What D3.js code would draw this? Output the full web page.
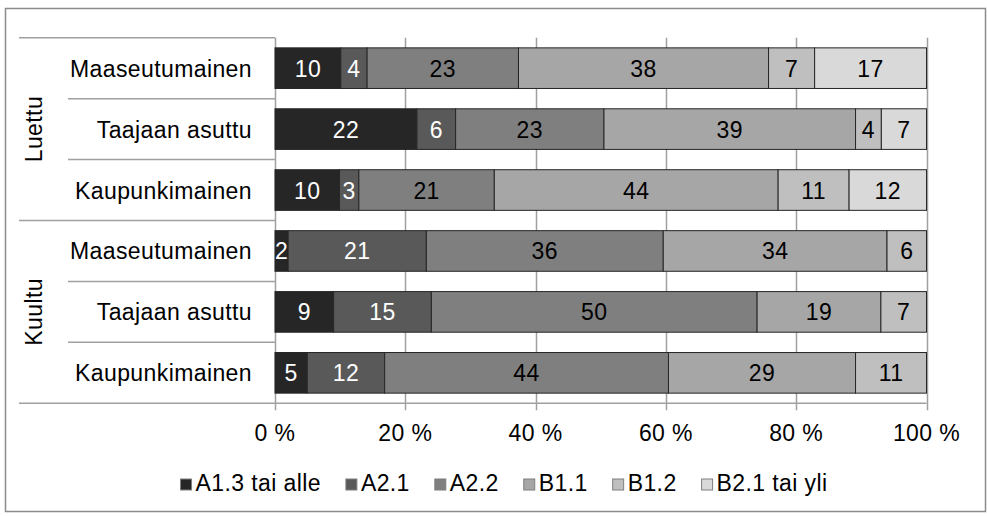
<!DOCTYPE html>
<html lang="fi">
<head>
<meta charset="utf-8">
<title>Kielitaito</title>
<script src="https://d3js.org/d3.v7.min.js"></script>
<style>
  body { margin: 0; background: #fff; }
  text { font-family: "Liberation Sans", Arial, sans-serif; letter-spacing: 0.4px; }
</style>
</head>
<body>
<script>
// data
var groups = ["Luettu", "Kuultu"];
var categories = ["Maaseutumainen", "Taajaan asuttu", "Kaupunkimainen"];
var seriesNames = ["A1.3 tai alle", "A2.1", "A2.2", "B1.1", "B1.2", "B2.1 tai yli"];
// row order: Luettu x3, Kuultu x3
var a13 = [10, 22, 10, 2, 9, 5];
var a21 = [4, 6, 3, 21, 15, 12];
var a22 = [23, 23, 21, 36, 50, 44];
var b11 = [38, 39, 44, 34, 19, 29];
var b12 = [7, 4, 11, 6, 7, 11];
var b21 = [17, 7, 12, 0, 0, 0];
var tickLabels = ["0 %", "20 %", "40 %", "60 %", "80 %", "100 %"];

var colors = ["#262626", "#595959", "#7f7f7f", "#a6a6a6", "#bfbfbf", "#d9d9d9"];
var labelColors = ["#fff", "#fff", "#000", "#000", "#000", "#000"];

var W = 987, H = 516;
var fontSize = 23;

var seriesVals = [a13, a21, a22, b11, b12, b21];
var rows = [];
groups.forEach(function(g, gi) {
    categories.forEach(function(c, ci) {
        var i = gi * categories.length + ci;
        var r = { id: i, group: g, cat: c };
        seriesNames.forEach(function(s, si) { r[s] = seriesVals[si][i]; });
        rows.push(r);
    });
});

var svg = d3.select("body").append("svg")
    .attr("width", W)
    .attr("height", H);

// outer frame
svg.append("rect")
    .attr("x", 5.5).attr("y", 8.5)
    .attr("width", 980).attr("height", 503)
    .attr("fill", "none")
    .attr("stroke", "#8c8c8c")
    .attr("stroke-width", 1.5);

var x = d3.scaleLinear().domain([0, 1]).range([275, 926.5]);
var y = d3.scaleBand()
    .domain(rows.map(function(d) { return d.id; }))
    .range([37.7, 403.3])
    .paddingInner(1 / 3)
    .paddingOuter(1 / 6);

var stack = d3.stack().keys(seriesNames).offset(d3.stackOffsetExpand);
var layers = stack(rows);

// gridlines (with tick stubs below the axis)
var grid = svg.append("g");
grid.selectAll("line")
    .data(d3.range(0, 1.0001, 0.2))
    .enter().append("line")
    .attr("x1", function(d) { return Math.round(x(d)) + 0.5; })
    .attr("x2", function(d) { return Math.round(x(d)) + 0.5; })
    .attr("y1", y.range()[0])
    .attr("y2", y.range()[1] + 7)
    .attr("stroke", "#a0a0a0")
    .attr("stroke-width", 1.5);

// bottom axis line
svg.append("line")
    .attr("x1", 19).attr("x2", x(1))
    .attr("y1", y.range()[1]).attr("y2", y.range()[1])
    .attr("stroke", "#a0a0a0").attr("stroke-width", 1.5);

// category separator lines
var bounds = d3.range(0, rows.length);
svg.append("g").selectAll("line")
    .data(bounds)
    .enter().append("line")
    .attr("x1", function(d) { return d % 3 === 0 ? 19 : 68; })
    .attr("x2", x(0))
    .attr("y1", function(d) { return y.range()[0] + d * y.step(); })
    .attr("y2", function(d) { return y.range()[0] + d * y.step(); })
    .attr("stroke", "#a0a0a0").attr("stroke-width", 1.5);

// bars
var layer = svg.append("g").selectAll("g")
    .data(layers)
    .enter().append("g")
    .attr("fill", function(d, i) { return colors[i]; });

layer.selectAll("rect")
    .data(function(d) { return d.filter(function(p) { return p[1] - p[0] > 0; }); })
    .enter().append("rect")
    .attr("x", function(d) { return x(d[0]); })
    .attr("y", function(d) { return y(d.data.id); })
    .attr("width", function(d) { return x(d[1]) - x(d[0]); })
    .attr("height", y.bandwidth())
    .attr("stroke", "#262626")
    .attr("stroke-width", 1);

// value labels
layers.forEach(function(l, li) {
    svg.append("g").selectAll("text")
        .data(l.filter(function(p) { return p.data[l.key] > 0; }))
        .enter().append("text")
        .attr("x", function(d) { return (x(d[0]) + x(d[1])) / 2; })
        .attr("y", function(d) { return y(d.data.id) + y.bandwidth() / 2 + 8.5; })
        .attr("text-anchor", "middle")
        .attr("font-size", fontSize)
        .attr("fill", labelColors[li])
        .text(function(d) { return d.data[l.key]; });
});

// category labels
svg.append("g").selectAll("text")
    .data(rows)
    .enter().append("text")
    .attr("x", 252)
    .attr("y", function(d) { return y(d.id) + y.bandwidth() / 2 + 8.5; })
    .attr("text-anchor", "end")
    .attr("font-size", fontSize)
    .attr("fill", "#000")
    .text(function(d) { return d.cat; });

// group labels
svg.append("g").selectAll("text")
    .data(groups)
    .enter().append("text")
    .attr("transform", function(d, i) {
        var cy = y.range()[0] + (i * 3 + 1.5) * y.step();
        return "translate(42," + cy + ") rotate(-90)";
    })
    .attr("text-anchor", "middle")
    .attr("font-size", fontSize)
    .attr("fill", "#000")
    .text(function(d) { return d; });

// x tick labels
svg.append("g").selectAll("text")
    .data(tickLabels)
    .enter().append("text")
    .attr("x", function(d, i) { return x(i / 5); })
    .attr("y", 441)
    .attr("text-anchor", "middle")
    .attr("font-size", fontSize)
    .attr("fill", "#000")
    .text(function(d) { return d; });

// legend
var legend = svg.append("g");
var items = legend.selectAll("g")
    .data(seriesNames)
    .enter().append("g");
items.append("rect")
    .attr("x", 0).attr("y", 479)
    .attr("width", 11).attr("height", 11)
    .attr("fill", function(d, i) { return colors[i]; })
    .attr("stroke", "#7f7f7f");
items.append("text")
    .attr("x", 15).attr("y", 491)
    .attr("font-size", fontSize)
    .attr("fill", "#000")
    .text(function(d) { return d; });

var pos = 0, offsets = [];
items.each(function() {
    offsets.push(pos);
    pos += 15 + this.querySelector("text").getComputedTextLength() + 25;
});
var total = pos - 25;
var startX = 504 - total / 2;
items.attr("transform", function(d, i) { return "translate(" + (startX + offsets[i]) + ",0)"; });
</script>
</body>
</html>
